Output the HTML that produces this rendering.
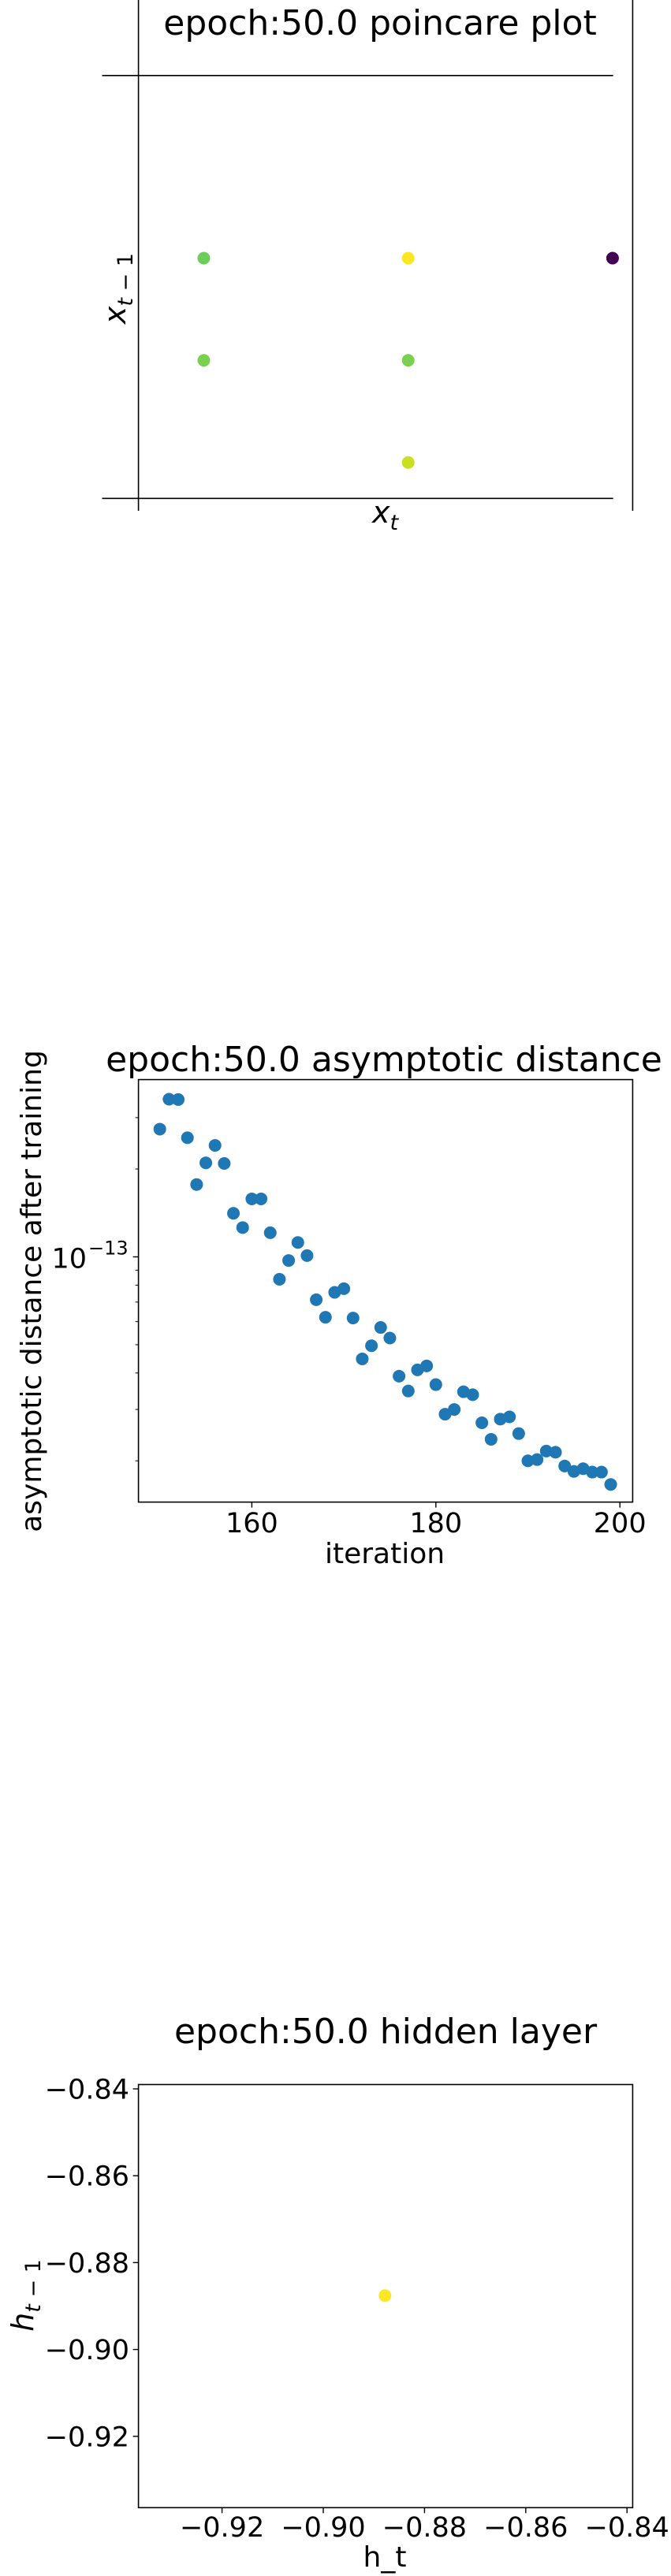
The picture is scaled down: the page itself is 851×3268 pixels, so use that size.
<!DOCTYPE html>
<html><head><meta charset="utf-8"><style>
html,body{margin:0;padding:0;background:#fff;}
svg{display:block;font-family:"DejaVu Sans","Liberation Sans",sans-serif;}
</style></head><body>
<svg id="fig" width="851" height="3268" viewBox="0 0 851 3268" xmlns="http://www.w3.org/2000/svg">
<g id="c1">
  <text x="482" y="44" font-size="44" text-anchor="middle">epoch:50.0 poincare plot</text>
  <line x1="175.6" y1="0" x2="175.6" y2="648" stroke="#000" stroke-width="1.6"/>
  <line x1="802.4" y1="0" x2="802.4" y2="648" stroke="#000" stroke-width="1.6"/>
  <line x1="129.5" y1="95.8" x2="777.7" y2="95.8" stroke="#000" stroke-width="1.6"/>
  <line x1="129.5" y1="632.3" x2="777.7" y2="632.3" stroke="#000" stroke-width="1.6"/>
  <text x="472" y="663" font-size="38" font-style="italic">x<tspan font-size="27" dy="9">t</tspan></text>
  <text transform="translate(159,366) rotate(-90)" font-size="38" text-anchor="middle" font-style="italic">x<tspan font-size="27" dy="9">t</tspan><tspan font-size="27" font-style="normal"> − 1</tspan></text>
</g>
<g id="c2">
  <text x="487" y="1359" font-size="44" text-anchor="middle">epoch:50.0 asymptotic distance</text>
  <rect x="175.6" y="1369.6" width="626.8" height="536" fill="none" stroke="#000" stroke-width="1.6"/>
  <text x="488" y="1983" font-size="36" text-anchor="middle">iteration</text>
  <text transform="translate(52,1638) rotate(-90)" font-size="36" text-anchor="middle">asymptotic distance after training</text>
</g>
<g id="c3">
  <text x="489" y="2592" font-size="44" text-anchor="middle">epoch:50.0 hidden layer</text>
  <rect x="175.6" y="2644.5" width="626.8" height="536.8" fill="none" stroke="#000" stroke-width="1.6"/>
  <text x="488" y="3256" font-size="36" text-anchor="middle">h_t</text>
  <text transform="translate(42,2912) rotate(-90)" font-size="38" text-anchor="middle" font-style="italic">h<tspan font-size="27" dy="9">t</tspan><tspan font-size="27" font-style="normal"> − 1</tspan></text>
</g>
</svg>
<script>
// ---- chart 1 data (poincare)
const poincareX = [0, 1, 2, 0, 1, 1];
const poincareY = [2, 2, 2, 1, 1, 0];
const poincareColors = ["#6ccd5a", "#fde725", "#440154", "#7ad151", "#7ad151", "#c8e020"];
// ---- chart 2 data (asymptotic distance, units of 1e-13)
const iterations = [150,151,152,153,154,155,156,157,158,159,160,161,162,163,164,165,166,167,168,169,170,171,172,173,174,175,176,177,178,179,180,181,182,183,184,185,186,187,188,189,190,191,192,193,194,195,196,197,198,199];
const distances = [2.74,3.47,3.46,2.56,1.77,2.10,2.41,2.09,1.41,1.26,1.58,1.58,1.21,0.838,0.972,1.12,1.01,0.713,0.621,0.756,0.778,0.617,0.447,0.496,0.573,0.527,0.390,0.347,0.410,0.423,0.365,0.289,0.300,0.345,0.337,0.270,0.237,0.278,0.283,0.248,0.200,0.202,0.216,0.214,0.192,0.184,0.188,0.183,0.183,0.166];
const xTicks2 = [160, 180, 200];
const yMinorTicks2 = [0.2,0.3,0.4,0.5,0.6,0.7,0.8,0.9,2,3];
// ---- chart 3 data (hidden layer)
const hiddenX = [-0.8878];
const hiddenY = [-0.8876];
const hiddenTicks = [-0.92, -0.90, -0.88, -0.86, -0.84];

const NS = "http://www.w3.org/2000/svg";
function mk(parent, tag, attrs){const e=document.createElementNS(NS,tag);for(const k in attrs)e.setAttribute(k,attrs[k]);parent.appendChild(e);return e;}

// chart 1
const c1 = document.getElementById("c1");
const x1 = v => 258.5 + 259.2 * v;
const y1 = v => 586.7 - 129.6 * v;
poincareX.forEach((v,i)=>{
  const c = mk(c1,"circle",{cx:x1(v),cy:y1(poincareY[i]),r:8,fill:poincareColors[i]});
  
  
});

// chart 2
const c2 = document.getElementById("c2");
const x2 = v => 319.4 + (v - 160) * 11.67;
const y2 = v => 1594.5 - 370.2 * Math.log10(v);
xTicks2.forEach(t=>{
  const l = mk(c2,"line",{x1:x2(t),x2:x2(t),y1:1905.6,y2:1912.6,stroke:"#000","stroke-width":1.4});
  
  
  const tx = mk(c2,"text",{x:x2(t),y:1944,"font-size":35,"text-anchor":"middle"});
  tx.textContent = String(t);
  
  
});
yMinorTicks2.forEach(t=>{
  const l = mk(c2,"line",{x1:171.6,x2:175.6,y1:y2(t),y2:y2(t),stroke:"#000","stroke-width":1});
  
  
});
const mj = mk(c2,"line",{x1:168.6,x2:175.6,y1:y2(1),y2:y2(1),stroke:"#000","stroke-width":1.4});


const yl = mk(c2,"text",{x:110,y:y2(1)+14,"font-size":35,"text-anchor":"end"});
yl.textContent = "10";


const ys = mk(c2,"text",{x:112,y:y2(1)-3,"font-size":24});
ys.textContent = "−13";


iterations.forEach((it,i)=>{
  const c = mk(c2,"circle",{cx:x2(it),cy:y2(distances[i]),r:8,fill:"#1f77b4"});
  
  
});

// chart 3
const c3 = document.getElementById("c3");
const x3 = v => 281.6 + (v + 0.92) * 6420;
const y3 = v => 2650 - (v + 0.84) * 5510;
hiddenTicks.forEach(t=>{
  const lx = mk(c3,"line",{x1:x3(t),x2:x3(t),y1:3181.3,y2:3188.3,stroke:"#000","stroke-width":1.4});
  
  
  const tx = mk(c3,"text",{x:x3(t),y:3218,"font-size":35,"text-anchor":"middle"});
  tx.textContent = "−" + Math.abs(t).toFixed(2);
  
  
  const ly = mk(c3,"line",{x1:168.6,x2:175.6,y1:y3(t),y2:y3(t),stroke:"#000","stroke-width":1.4});
  
  
  const ty = mk(c3,"text",{x:164,y:y3(t)+12.5,"font-size":35,"text-anchor":"end"});
  ty.textContent = "−" + Math.abs(t).toFixed(2);
  
  
});
hiddenX.forEach((v,i)=>{
  const c = mk(c3,"circle",{cx:x3(v),cy:y3(hiddenY[i]),r:8,fill:"#fde725"});
  
  
});
</script>
</body></html>
